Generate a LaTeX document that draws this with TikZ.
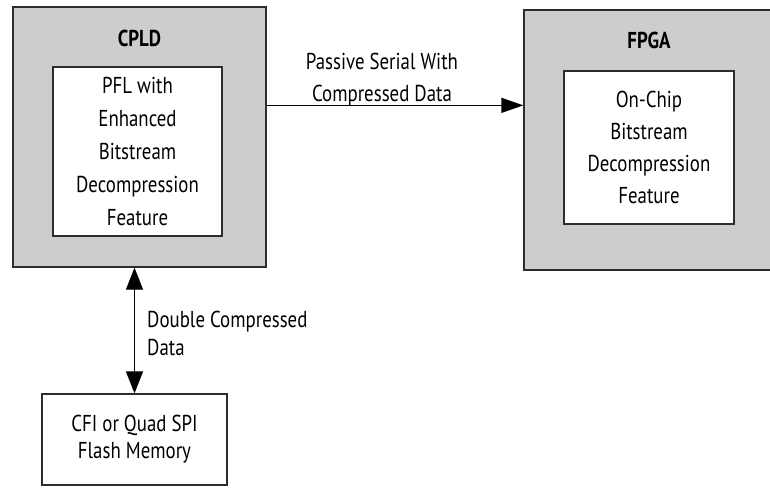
\documentclass[tikz,border=0pt]{standalone}
\usepackage{fontspec}
\setmainfont{PT Sans}[FakeStretch=0.82]
\usetikzlibrary{arrows.meta,calc}
\definecolor{boxgray}{RGB}{205,205,205}
\definecolor{edge}{RGB}{45,45,45}
\begin{document}
\begin{tikzpicture}[x=1pt,y=-1pt,
  outerbox/.style={draw=edge,line width=1.3pt,fill=boxgray,rectangle,inner sep=0pt},
  innerbox/.style={draw=edge,line width=1.3pt,fill=white,rectangle,inner sep=0pt,align=center,font=\fontsize{23}{33}\selectfont},
  plainbox/.style={draw=edge,line width=1.3pt,fill=white,rectangle,inner sep=0pt,align=center,font=\fontsize{23}{27}\selectfont},
  title/.style={font=\fontsize{23}{26}\selectfont\bfseries,inner sep=0pt},
  lbl/.style={font=\fontsize{23}{32}\selectfont,inner sep=0pt},
  conn/.style={draw=black,line width=1.3pt}
]
\useasboundingbox (0,0) rectangle (770,487);
% CPLD
\node[outerbox,minimum width=253pt,minimum height=260pt] (cpld) at (139.5,137) {};
\node[title] (cpldt) at (139.5,38) {CPLD};
\node[innerbox,minimum width=169pt,minimum height=169pt] (pfl) at (137.5,151.5)
  {PFL with\\Enhanced\\Bitstream\\Decompression\\Feature};
% FPGA
\node[outerbox,minimum width=250pt,minimum height=260pt] (fpga) at (649,140) {};
\node[title] (fpgat) at (649,40) {FPGA};
\node[innerbox,minimum width=170pt,minimum height=153pt,font=\fontsize{23}{32}\selectfont] (ocd) at (649,147.5)
  {On-Chip\\Bitstream\\Decompression\\Feature};
% Flash
\node[plainbox,minimum width=185pt,minimum height=91pt] (flash) at (134.5,439.5)
  {CFI or Quad SPI\\Flash Memory};
% connectors
\coordinate (ps) at ([yshift=-99pt]cpld.north east);
\draw[conn,-{Triangle[length=22pt,width=15pt]}] (ps) -- (ps -| fpga.west);
\node[lbl,align=center] (pslbl) at (382,80) {Passive Serial With\\Compressed Data};
\draw[conn,{Triangle[length=22pt,width=17pt]}-{Triangle[length=22pt,width=17pt]}] (cpld.south -| flash.north) -- (flash.north);
\node[lbl,align=left,anchor=west,font=\fontsize{23}{28}\selectfont] (dclbl) at (147,333) {Double Compressed\\Data};
\end{tikzpicture}
\end{document}
